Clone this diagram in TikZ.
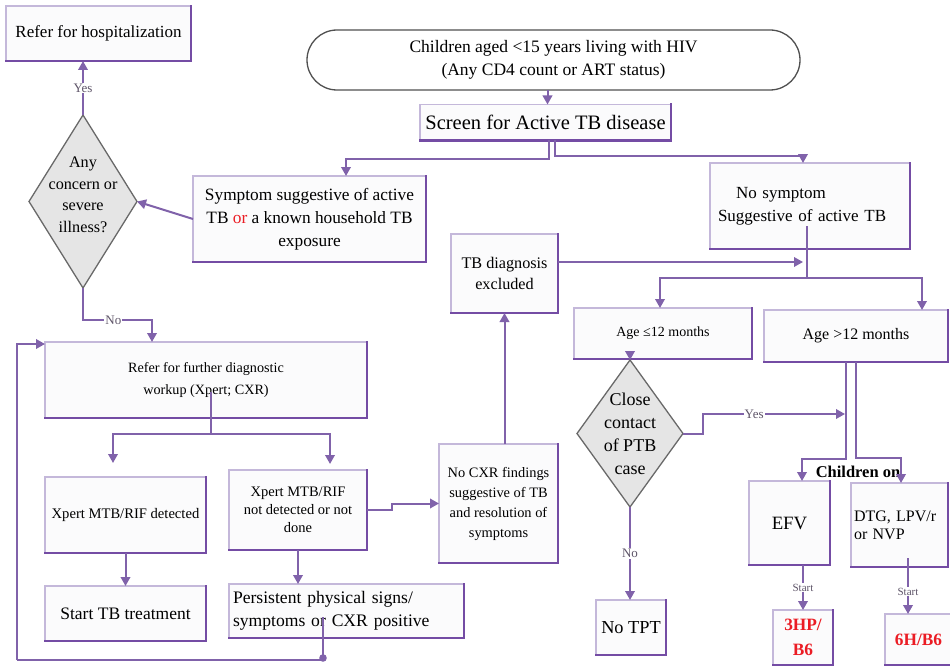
\documentclass[tikz,border=0pt]{standalone}
\usepackage{fontspec}
\setmainfont{Liberation Serif}
\usetikzlibrary{shapes.geometric,arrows.meta,calc}

\definecolor{lnc}{RGB}{128,98,170}
\definecolor{boxlite}{RGB}{196,184,218}
\definecolor{boxdark}{RGB}{116,76,164}
\definecolor{boxfill}{RGB}{251,251,252}
\definecolor{diafill}{RGB}{229,229,229}
\definecolor{diaedge}{RGB}{105,105,105}
\definecolor{ovaledge}{RGB}{80,80,80}
\definecolor{lblc}{RGB}{95,85,105}
\definecolor{txtred}{RGB}{235,28,36}
\newcommand\fsz[2]{\fontsize{#1pt}{#2pt}\selectfont}

\begin{document}
\begin{tikzpicture}[x=1pt,y=-1pt,
  box/.style={draw=boxlite,line width=1.4pt,fill=boxfill,inner sep=2pt,
              outer sep=0pt,align=center,text=black},
  dia/.style={diamond,draw=diaedge,fill=diafill,line width=1.3pt,
              inner sep=0pt,outer sep=0pt},
  ln/.style={draw=lnc,line width=2pt},
  arr/.style={ln,-{Triangle[length=9pt,width=9.5pt]}},
  lbl/.style={fill=white,inner sep=1pt,text=lblc,font=\fsz{13}{14}},
  slbl/.style={fill=white,inner sep=1pt,text=lblc,font=\fsz{11}{12}},
  line join=miter]

\useasboundingbox (0,0) rectangle (950,666);

% ---------- boxes ----------
\node[box,minimum width=185,minimum height=55,font=\fsz{17}{20}] (hosp) at (98.5,33.5)
  {Refer for hospitalization};
\node[draw=ovaledge,line width=1.3pt,fill=white,rounded corners=30pt,
      minimum width=493,minimum height=60,align=center,outer sep=0pt,
      font=\fsz{17.5}{23}] (oval) at (553.5,60)
  {Children aged <15 years living with HIV\\(Any CD4 count or ART status)};
\node[box,minimum width=251,minimum height=36,font=\fsz{20.5}{24}] (scr) at (545.5,122.5)
  {Screen for Active TB disease};
\node[box,minimum width=233,minimum height=86,font=\fsz{17.3}{23}] (sym) at (309.5,219)
  {Symptom suggestive of active\\TB {\color{txtred}or} a known household TB\\exposure};
\node[box,minimum width=200,minimum height=86,text width=184,inner sep=8pt,align=left,
      font=\fsz{17}{23}] (nos) at (810,206)
  {\hspace*{18pt}No symptom\\Suggestive of active TB};
\node[box,minimum width=107,minimum height=79,font=\fsz{16.2}{21}] (tbx) at (504.5,273.5)
  {TB diagnosis\\excluded};
\node[box,minimum width=178,minimum height=51,font=\fsz{14}{16}] (a12) at (663,333.5)
  {Age ≤12 months};
\node[box,minimum width=184,minimum height=52,font=\fsz{16}{18}] (a12b) at (856,336)
  {Age >12 months};
\node[box,minimum width=322,minimum height=76,font=\fsz{14.2}{22}] (wk) at (206,380)
  {Refer for further diagnostic\\workup (Xpert; CXR)};
\node[box,minimum width=161,minimum height=76,font=\fsz{14.6}{17}] (xd) at (125.5,515)
  {Xpert MTB/RIF detected};
\node[box,minimum width=138,minimum height=80,font=\fsz{14.5}{18}] (xnd) at (298,510)
  {Xpert MTB/RIF\\not detected or not\\done};
\node[box,minimum width=161,minimum height=55,font=\fsz{17.5}{20}] (stt) at (125.5,613.5)
  {Start TB treatment};
\node[box,minimum width=235,minimum height=54,text width=227,inner sep=4pt,align=left,
      font=\fsz{17.6}{23}] (per) at (346.5,611)
  {Persistent physical signs/\\symptoms or CXR positive};
\node[box,minimum width=119,minimum height=119,font=\fsz{14.4}{20}] (ncx) at (498.5,503.5)
  {No CXR findings\\suggestive of TB\\and resolution of\\symptoms};
\node[box,minimum width=70,minimum height=55,font=\fsz{18.3}{20}] (ntpt) at (631,627.5)
  {No TPT};
\node[box,minimum width=81,minimum height=84,font=\fsz{18.8}{20}] (efv) at (789.5,523)
  {EFV};
\node[box,minimum width=97,minimum height=84,text width=91,inner sep=3pt,align=left,
      font=\fsz{16}{18}] (dtg) at (899.5,525)
  {DTG, LPV/r\\or NVP};
\node[box,minimum width=60,minimum height=55,font=\fsz{17.3}{25}\bfseries,text=txtred] (hp3) at (803,637.5)
  {3HP/\\B6};
\node[box,minimum width=67,minimum height=51,font=\fsz{17.3}{20}\bfseries,text=txtred] (h6) at (918.5,639.5)
  {6H/B6};

% darker lower and right edges of the boxes
\foreach \n in {hosp,scr,sym,nos,tbx,a12,a12b,wk,xd,xnd,stt,per,ncx,ntpt,efv,dtg,hp3,h6}
  \draw[boxdark,line width=2.1pt,line cap=rect] (\n.north east) -- (\n.south east) -- (\n.south west);

% ---------- decisions ----------
\node[dia,minimum width=108,minimum height=173] (dia1) at (83,201.5) {};
\node[align=center,font=\fsz{16.2}{21.5}] (dia1t) at (83,195) {Any\\concern or\\severe\\illness?};
\node[dia,minimum width=106,minimum height=147] (dia2) at (630,433.5) {};
\node[align=center,font=\fsz{18}{23}] (dia2t) at (630,434) {Close\\contact\\of PTB\\case};

\node[font=\fsz{16.5}{18}\bfseries] (chon) at (858,472) {Children on};

% ---------- connectors ----------
\coordinate (scrin) at ($(scr.north)+(2,0)$);
\draw[arr] (scrin |- oval.south) -- (scrin);

\draw[arr] ($(scr.south)+(3,0)$) -- ++(0,18) -| ($(sym.north)+(36.5,0)$);
\draw[arr] ($(scr.south)+(9,0)$) -- ++(0,15) -| ($(nos.north)+(-7,0)$);

\draw[arr] (sym.west) -- (dia1.east);
\draw[arr] (dia1.north) -- node[lbl] (yes1) {Yes} (dia1.north |- hosp.south);
\draw[arr] (dia1.south) -- ++(0,32) -| node[lbl,pos=0.22] (no1) {No} ($(wk.north)+(-54,0)$);

% workup splits into the two Xpert results
\coordinate (wkj) at ($(wk.south)+(5,16)$);
\draw[ln] ($(wk.center)+(5,12)$) -- (wkj);
\draw[arr] (wkj) -| ($(xd.north)+(-12.5,-14)$);
\draw[arr] (wkj) -| ($(xnd.north)+(32,-6)$);

\draw[arr] (xd.south) -- (stt.north);
\draw[arr] (xnd.south) -- (xnd.south |- per.north);
\draw[arr] (xnd.east) -- ++(25,0) |- (ncx.west);
\draw[arr] (ncx.north -| tbx.south) -- (tbx.south);

% loop back from persistent signs to further workup
\coordinate (perA) at ($(per.center)+(-23.5,6)$);
\coordinate (lpb) at (17,660);
\draw[ln] (perA) |- (lpb);
\draw[arr] (lpb) |- ($(wk.north west)+(0,2)$);
\fill[lnc] (perA |- lpb) ++(0,-2) circle (3.8pt);

% no symptom branch
\coordinate (nosj) at ($(nos.south)+(-3,29)$);
\draw[ln] ($(nos.center)+(-3,20)$) -- (nosj);
\coordinate (tbxo) at ($(tbx.east)+(0,-11.5)$);
\draw[arr] (tbxo) -- ($(tbxo -| nosj)+(-4,0)$);
\draw[arr] (nosj) -| ($(a12.north)+(-3,0)$);
\draw[arr] (nosj) -| ($(a12b.north)+(66,0)$);

\draw[arr] (dia2.north |- a12.south) -- (dia2.north);
\draw[arr] (dia2.south) -- node[lbl] (no2) {No} (dia2.south |- ntpt.north);

% age over 12 months: ART regimen
\coordinate (efvv) at ($(a12b.south)+(-10,0)$);
\coordinate (dtgv) at ($(a12b.south)+(0,0)$);
\draw[arr] (efvv) -- ++(0,97) -| ($(efv.north)+(12.5,0)$);
\draw[arr] (dtgv) -- ++(0,96) -| ($(dtg.north)+(1.5,0)$);
\draw[arr] (dia2.east) -- ++(20,0) |- node[lbl,pos=0.68] (yes2) {Yes} ($(efvv)+(-1,52)$);

\coordinate (efvs) at (hp3.north |- efv.south);
\draw[arr] (efvs) -- node[slbl] (st1) {Start} (hp3.north);
\coordinate (dtgs) at ($(dtg.south)+(8.5,-9)$);
\draw[arr] (dtgs) -- node[slbl,pos=0.6] (st2) {Start} (dtgs |- h6.north);

\end{tikzpicture}
\end{document}
